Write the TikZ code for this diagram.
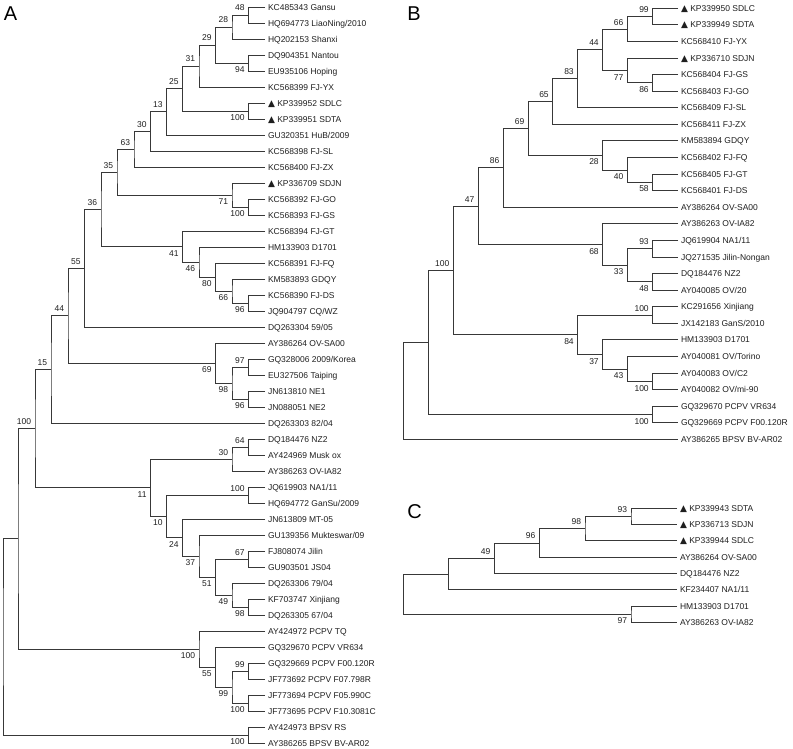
\documentclass[tikz,border=0pt]{standalone}
\usepackage{fontspec}
\setmainfont{Liberation Sans}
\newfontfamily\dejavu{DejaVu Sans}
\newcommand\tri{{\dejavu\fontsize{9}{10}\selectfont ▲}\ }
\tikzset{
  br/.style={draw=black!78, line width=0.85pt},
  leaf/.style={anchor=west, inner xsep=3pt, inner ysep=0pt, outer sep=0pt,
    text height=6.1pt, text depth=0pt, text=black!88,
    font=\fontsize{8.5}{10}\selectfont},
  bsa/.style={anchor=south east, inner sep=0pt, outer sep=0pt, xshift=-4pt, yshift=4pt,
    text height=6.1pt, text depth=0pt, text=black!88, font=\fontsize{8.5}{10}\selectfont},
  bsb/.style={anchor=north east, inner sep=0pt, outer sep=0pt, xshift=-4pt, yshift=-3.5pt,
    text height=6.1pt, text depth=0pt, text=black!88, font=\fontsize{8.5}{10}\selectfont},
  panel/.style={inner sep=0pt, text height=14.5pt, text depth=0pt, font=\fontsize{20}{24}\selectfont}
}
\begin{document}
\begin{tikzpicture}[x=1pt,y=-1pt]
\useasboundingbox[fill=white] (0,0) rectangle (793,749);

% ---------------- Panel A ----------------
\node[panel] (pA) at (10.5,13.5) {A};
\node[leaf] (a1) at (265,7) {KC485343 Gansu};
\node[leaf] (a2) at (265,23) {HQ694773 LiaoNing/2010};
\node[leaf] (a3) at (265,39) {HQ202153 Shanxi};
\node[leaf] (a4) at (265,55) {DQ904351 Nantou};
\node[leaf] (a5) at (265,71) {EU935106 Hoping};
\node[leaf] (a6) at (265,87) {KC568399 FJ-YX};
\node[leaf] (a7) at (265,103) {\tri KP339952 SDLC};
\node[leaf] (a8) at (265,119) {\tri KP339951 SDTA};
\node[leaf] (a9) at (265,135) {GU320351 HuB/2009};
\node[leaf] (a10) at (265,151) {KC568398 FJ-SL};
\node[leaf] (a11) at (265,167) {KC568400 FJ-ZX};
\node[leaf] (a12) at (265,183) {\tri KP336709 SDJN};
\node[leaf] (a13) at (265,199) {KC568392 FJ-GO};
\node[leaf] (a14) at (265,215) {KC568393 FJ-GS};
\node[leaf] (a15) at (265,231) {KC568394 FJ-GT};
\node[leaf] (a16) at (265,247) {HM133903 D1701};
\node[leaf] (a17) at (265,263) {KC568391 FJ-FQ};
\node[leaf] (a18) at (265,279) {KM583893 GDQY};
\node[leaf] (a19) at (265,295) {KC568390 FJ-DS};
\node[leaf] (a20) at (265,311) {JQ904797 CQ/WZ};
\node[leaf] (a21) at (265,327) {DQ263304 59/05};
\node[leaf] (a22) at (265,343) {AY386264 OV-SA00};
\node[leaf] (a23) at (265,359) {GQ328006 2009/Korea};
\node[leaf] (a24) at (265,375) {EU327506 Taiping};
\node[leaf] (a25) at (265,391) {JN613810 NE1};
\node[leaf] (a26) at (265,407) {JN088051 NE2};
\node[leaf] (a27) at (265,423) {DQ263303 82/04};
\node[leaf] (a28) at (265,439) {DQ184476 NZ2};
\node[leaf] (a29) at (265,455) {AY424969 Musk ox};
\node[leaf] (a30) at (265,471) {AY386263 OV-IA82};
\node[leaf] (a31) at (265,487) {JQ619903 NA1/11};
\node[leaf] (a32) at (265,503) {HQ694772 GanSu/2009};
\node[leaf] (a33) at (265,519) {JN613809 MT-05};
\node[leaf] (a34) at (265,535) {GU139356 Mukteswar/09};
\node[leaf] (a35) at (265,551) {FJ808074 Jilin};
\node[leaf] (a36) at (265,567) {GU903501 JS04};
\node[leaf] (a37) at (265,583) {DQ263306 79/04};
\node[leaf] (a38) at (265,599) {KF703747 Xinjiang};
\node[leaf] (a39) at (265,615) {DQ263305 67/04};
\node[leaf] (a40) at (265,631) {AY424972 PCPV TQ};
\node[leaf] (a41) at (265,647) {GQ329670 PCPV VR634};
\node[leaf] (a42) at (265,663) {GQ329669 PCPV F00.120R};
\node[leaf] (a43) at (265,679) {JF773692 PCPV F07.798R};
\node[leaf] (a44) at (265,695) {JF773694 PCPV F05.990C};
\node[leaf] (a45) at (265,711) {JF773695 PCPV F10.3081C};
\node[leaf] (a46) at (265,727) {AY424973 BPSV RS};
\node[leaf] (a47) at (265,743) {AY386265 BPSV BV-AR02};

\coordinate (A48) at (248.5,15);
\coordinate (A28) at (232,27);
\coordinate (A94) at (248.5,63);
\coordinate (A29) at (215.5,45);
\coordinate (A31) at (199,66);
\coordinate (A100a) at (248.5,111);
\coordinate (A25) at (182.7,88.5);
\coordinate (A13) at (166.5,111.75);
\coordinate (A30) at (150.5,131.4);
\coordinate (A63) at (134,149.2);
\coordinate (A100b) at (248.5,207);
\coordinate (A71) at (232,195);
\coordinate (A35) at (117,172.1);
\coordinate (A96) at (248.5,303);
\coordinate (A66) at (232,291);
\coordinate (A80) at (215.5,277);
\coordinate (A46) at (199,262);
\coordinate (A41) at (182.7,246.5);
\coordinate (A36) at (101,209.3);
\coordinate (A55) at (84.5,268.2);
\coordinate (A97) at (248.5,367);
\coordinate (A96b) at (248.5,399);
\coordinate (A98) at (232,383);
\coordinate (A69) at (215.5,363);
\coordinate (A44) at (68,315.6);
\coordinate (A15) at (51,369.3);
\coordinate (A64) at (248.5,447);
\coordinate (A30b) at (232,459);
\coordinate (A100d) at (248.5,495);
\coordinate (A67) at (248.5,559);
\coordinate (A98b) at (248.5,607);
\coordinate (A49) at (232,595);
\coordinate (A51) at (215.5,577);
\coordinate (A37) at (199,556);
\coordinate (A24) at (182.7,537.5);
\coordinate (A10) at (166.5,516.25);
\coordinate (A11) at (150.5,487.6);
\coordinate (A100e) at (35,428.5);
\coordinate (A99b) at (248.5,671);
\coordinate (A100f) at (248.5,703);
\coordinate (A99a) at (232,687);
\coordinate (A55b) at (215.5,667);
\coordinate (A100g) at (199,649);
\coordinate (AX) at (18,538.7);
\coordinate (A100h) at (248.5,735);
\coordinate (Aroot) at (3,636.9);

\draw[br] (a1.west) -| (A48) |- (a2.west);
\draw[br] (A48) -| (A28) |- (a3.west);
\draw[br] (a4.west) -| (A94) |- (a5.west);
\draw[br] (A28) -| (A29) |- (A94);
\draw[br] (A29) -| (A31) |- (a6.west);
\draw[br] (a7.west) -| (A100a) |- (a8.west);
\draw[br] (A31) -| (A25) |- (A100a);
\draw[br] (A25) -| (A13) |- (a9.west);
\draw[br] (A13) -| (A30) |- (a10.west);
\draw[br] (A30) -| (A63) |- (a11.west);
\draw[br] (a13.west) -| (A100b) |- (a14.west);
\draw[br] (a12.west) -| (A71) |- (A100b);
\draw[br] (A63) -| (A35) |- (A71);
\draw[br] (a19.west) -| (A96) |- (a20.west);
\draw[br] (a18.west) -| (A66) |- (A96);
\draw[br] (a17.west) -| (A80) |- (A66);
\draw[br] (a16.west) -| (A46) |- (A80);
\draw[br] (a15.west) -| (A41) |- (A46);
\draw[br] (A35) -| (A36) |- (A41);
\draw[br] (A36) -| (A55) |- (a21.west);
\draw[br] (a23.west) -| (A97) |- (a24.west);
\draw[br] (a25.west) -| (A96b) |- (a26.west);
\draw[br] (A97) -| (A98) |- (A96b);
\draw[br] (a22.west) -| (A69) |- (A98);
\draw[br] (A55) -| (A44) |- (A69);
\draw[br] (A44) -| (A15) |- (a27.west);
\draw[br] (a28.west) -| (A64) |- (a29.west);
\draw[br] (A64) -| (A30b) |- (a30.west);
\draw[br] (a31.west) -| (A100d) |- (a32.west);
\draw[br] (a35.west) -| (A67) |- (a36.west);
\draw[br] (a38.west) -| (A98b) |- (a39.west);
\draw[br] (a37.west) -| (A49) |- (A98b);
\draw[br] (A67) -| (A51) |- (A49);
\draw[br] (a34.west) -| (A37) |- (A51);
\draw[br] (a33.west) -| (A24) |- (A37);
\draw[br] (A100d) -| (A10) |- (A24);
\draw[br] (A30b) -| (A11) |- (A10);
\draw[br] (A15) -| (A100e) |- (A11);
\draw[br] (a42.west) -| (A99b) |- (a43.west);
\draw[br] (a44.west) -| (A100f) |- (a45.west);
\draw[br] (A99b) -| (A99a) |- (A100f);
\draw[br] (a41.west) -| (A55b) |- (A99a);
\draw[br] (a40.west) -| (A100g) |- (A55b);
\draw[br] (A100e) -| (AX) |- (A100g);
\draw[br] (a46.west) -| (A100h) |- (a47.west);
\draw[br] (AX) -| (Aroot) |- (A100h);

\node[bsa] (lA48) at (A48) {48};
\node[bsa] (lA28) at (A28) {28};
\node[bsb] (lA94) at (A94) {94};
\node[bsa] (lA29) at (A29) {29};
\node[bsa] (lA31) at (A31) {31};
\node[bsb] (lA100a) at (A100a) {100};
\node[bsa] (lA25) at (A25) {25};
\node[bsa] (lA13) at (A13) {13};
\node[bsa] (lA30) at (A30) {30};
\node[bsa] (lA63) at (A63) {63};
\node[bsa] (lA35) at (A35) {35};
\node[bsb] (lA71) at (A71) {71};
\node[bsb] (lA100b) at (A100b) {100};
\node[bsa] (lA36) at (A36) {36};
\node[bsb] (lA41) at (A41) {41};
\node[bsb] (lA46) at (A46) {46};
\node[bsb] (lA80) at (A80) {80};
\node[bsb] (lA66) at (A66) {66};
\node[bsb] (lA96) at (A96) {96};
\node[bsa] (lA55) at (A55) {55};
\node[bsa] (lA44) at (A44) {44};
\node[bsb] (lA69) at (A69) {69};
\node[bsa] (lA97) at (A97) {97};
\node[bsb] (lA98) at (A98) {98};
\node[bsb] (lA96b) at (A96b) {96};
\node[bsa] (lA15) at (A15) {15};
\node[bsa] (lA100e) at (A100e) {100};
\node[bsa] (lA64) at (A64) {64};
\node[bsa] (lA30b) at (A30b) {30};
\node[bsb] (lA11) at (A11) {11};
\node[bsa] (lA100d) at (A100d) {100};
\node[bsb] (lA10) at (A10) {10};
\node[bsb] (lA24) at (A24) {24};
\node[bsb] (lA37) at (A37) {37};
\node[bsb] (lA51) at (A51) {51};
\node[bsa] (lA67) at (A67) {67};
\node[bsb] (lA49) at (A49) {49};
\node[bsb] (lA98b) at (A98b) {98};
\node[bsb] (lA100g) at (A100g) {100};
\node[bsb] (lA55b) at (A55b) {55};
\node[bsa] (lA99b) at (A99b) {99};
\node[bsb] (lA99a) at (A99a) {99};
\node[bsb] (lA100f) at (A100f) {100};
\node[bsb] (lA100h) at (A100h) {100};

% ---------------- Panel B ----------------
\node[panel] (pB) at (414,13.5) {B};
\node[leaf] (b1) at (678,8.3) {\tri KP339950 SDLC};
\node[leaf] (b2) at (678,24.9) {\tri KP339949 SDTA};
\node[leaf] (b3) at (678,41.5) {KC568410 FJ-YX};
\node[leaf] (b4) at (678,58.0) {\tri KP336710 SDJN};
\node[leaf] (b5) at (678,74.6) {KC568404 FJ-GS};
\node[leaf] (b6) at (678,91.2) {KC568403 FJ-GO};
\node[leaf] (b7) at (678,107.8) {KC568409 FJ-SL};
\node[leaf] (b8) at (678,124.4) {KC568411 FJ-ZX};
\node[leaf] (b9) at (678,140.9) {KM583894 GDQY};
\node[leaf] (b10) at (678,157.5) {KC568402 FJ-FQ};
\node[leaf] (b11) at (678,174.1) {KC568405 FJ-GT};
\node[leaf] (b12) at (678,190.7) {KC568401 FJ-DS};
\node[leaf] (b13) at (678,207.3) {AY386264 OV-SA00};
\node[leaf] (b14) at (678,223.8) {AY386263 OV-IA82};
\node[leaf] (b15) at (678,240.4) {JQ619904 NA1/11};
\node[leaf] (b16) at (678,257.0) {JQ271535 Jilin-Nongan};
\node[leaf] (b17) at (678,273.6) {DQ184476 NZ2};
\node[leaf] (b18) at (678,290.2) {AY040085 OV/20};
\node[leaf] (b19) at (678,306.8) {KC291656 Xinjiang};
\node[leaf] (b20) at (678,323.4) {JX142183 GanS/2010};
\node[leaf] (b21) at (678,339.9) {HM133903 D1701};
\node[leaf] (b22) at (678,356.5) {AY040081 OV/Torino};
\node[leaf] (b23) at (678,373.1) {AY040083 OV/C2};
\node[leaf] (b24) at (678,389.7) {AY040082 OV/mi-90};
\node[leaf] (b25) at (678,406.2) {GQ329670 PCPV VR634};
\node[leaf] (b26) at (678,422.8) {GQ329669 PCPV F00.120R};
\node[leaf] (b27) at (678,439.4) {AY386265 BPSV BV-AR02};

\coordinate (B99) at (652.7,16.6);
\coordinate (B66) at (627.3,29.05);
\coordinate (B86b) at (652.7,82.9);
\coordinate (B77) at (627.3,70.45);
\coordinate (B44) at (602.7,49.75);
\coordinate (B83) at (577.7,78.8);
\coordinate (B65) at (552.7,101.6);
\coordinate (B58) at (652.7,182.4);
\coordinate (B40) at (627.3,169.95);
\coordinate (B28) at (602.7,155.4);
\coordinate (B69) at (528.3,128.5);
\coordinate (B86) at (503.3,167.9);
\coordinate (B93) at (652.7,248.7);
\coordinate (B48) at (652.7,281.9);
\coordinate (B33) at (627.3,265.3);
\coordinate (B68) at (602.7,244.55);
\coordinate (B47) at (478.3,206.2);
\coordinate (B100x) at (652.7,315.1);
\coordinate (B100y) at (652.7,381.4);
\coordinate (B43) at (627.3,368.95);
\coordinate (B37) at (602.7,354.4);
\coordinate (B84) at (577.7,334.75);
\coordinate (B100B) at (453.3,270.5);
\coordinate (BPC) at (652.7,414.5);
\coordinate (B100r) at (428.3,342.5);
\coordinate (Broot) at (403.3,391);

\draw[br] (b1.west) -| (B99) |- (b2.west);
\draw[br] (B99) -| (B66) |- (b3.west);
\draw[br] (b5.west) -| (B86b) |- (b6.west);
\draw[br] (b4.west) -| (B77) |- (B86b);
\draw[br] (B66) -| (B44) |- (B77);
\draw[br] (B44) -| (B83) |- (b7.west);
\draw[br] (B83) -| (B65) |- (b8.west);
\draw[br] (b11.west) -| (B58) |- (b12.west);
\draw[br] (b10.west) -| (B40) |- (B58);
\draw[br] (b9.west) -| (B28) |- (B40);
\draw[br] (B65) -| (B69) |- (B28);
\draw[br] (B69) -| (B86) |- (b13.west);
\draw[br] (b15.west) -| (B93) |- (b16.west);
\draw[br] (b17.west) -| (B48) |- (b18.west);
\draw[br] (B93) -| (B33) |- (B48);
\draw[br] (b14.west) -| (B68) |- (B33);
\draw[br] (B86) -| (B47) |- (B68);
\draw[br] (b19.west) -| (B100x) |- (b20.west);
\draw[br] (b23.west) -| (B100y) |- (b24.west);
\draw[br] (b22.west) -| (B43) |- (B100y);
\draw[br] (b21.west) -| (B37) |- (B43);
\draw[br] (B100x) -| (B84) |- (B37);
\draw[br] (B47) -| (B100B) |- (B84);
\draw[br] (b25.west) -| (BPC) |- (b26.west);
\draw[br] (B100B) -| (B100r) |- (BPC);
\draw[br] (B100r) -| (Broot) |- (b27.west);

\node[bsa] (lB99) at (B99) {99};
\node[bsa] (lB66) at (B66) {66};
\node[bsb] (lB86b) at (B86b) {86};
\node[bsb] (lB77) at (B77) {77};
\node[bsa] (lB44) at (B44) {44};
\node[bsa] (lB83) at (B83) {83};
\node[bsa] (lB65) at (B65) {65};
\node[bsb] (lB58) at (B58) {58};
\node[bsb] (lB40) at (B40) {40};
\node[bsb] (lB28) at (B28) {28};
\node[bsa] (lB69) at (B69) {69};
\node[bsa] (lB86) at (B86) {86};
\node[bsa] (lB93) at (B93) {93};
\node[bsb] (lB48) at (B48) {48};
\node[bsb] (lB33) at (B33) {33};
\node[bsb] (lB68) at (B68) {68};
\node[bsa] (lB47) at (B47) {47};
\node[bsa] (lB100x) at (B100x) {100};
\node[bsb] (lB100y) at (B100y) {100};
\node[bsb] (lB43) at (B43) {43};
\node[bsb] (lB37) at (B37) {37};
\node[bsb] (lB84) at (B84) {84};
\node[bsa] (lB100B) at (B100B) {100};
\node[bsb] (lBPC) at (BPC) {100};

% ---------------- Panel C ----------------
\node[panel] (pC) at (414.5,511.5) {C};
\node[leaf] (c1) at (677,508.3) {\tri KP339943 SDTA};
\node[leaf] (c2) at (677,524.6) {\tri KP336713 SDJN};
\node[leaf] (c3) at (677,540.9) {\tri KP339944 SDLC};
\node[leaf] (c4) at (677,557.2) {AY386264 OV-SA00};
\node[leaf] (c5) at (677,573.5) {DQ184476 NZ2};
\node[leaf] (c6) at (677,589.8) {KF234407 NA1/11};
\node[leaf] (c7) at (677,606.0) {HM133903 D1701};
\node[leaf] (c8) at (677,622.3) {AY386263 OV-IA82};

\coordinate (C93) at (631,516.45);
\coordinate (C98) at (585,528.7);
\coordinate (C96) at (539.3,542.95);
\coordinate (C49) at (494.3,558.2);
\coordinate (CI) at (448.3,574);
\coordinate (C97) at (631,614.15);
\coordinate (Croot) at (403.3,594.1);

\draw[br] (c1.west) -| (C93) |- (c2.west);
\draw[br] (C93) -| (C98) |- (c3.west);
\draw[br] (C98) -| (C96) |- (c4.west);
\draw[br] (C96) -| (C49) |- (c5.west);
\draw[br] (C49) -| (CI) |- (c6.west);
\draw[br] (c7.west) -| (C97) |- (c8.west);
\draw[br] (CI) -| (Croot) |- (C97);

\node[bsa] (lC93) at (C93) {93};
\node[bsa] (lC98) at (C98) {98};
\node[bsa] (lC96) at (C96) {96};
\node[bsa] (lC49) at (C49) {49};
\node[bsb] (lC97) at (C97) {97};
\end{tikzpicture}
\end{document}
